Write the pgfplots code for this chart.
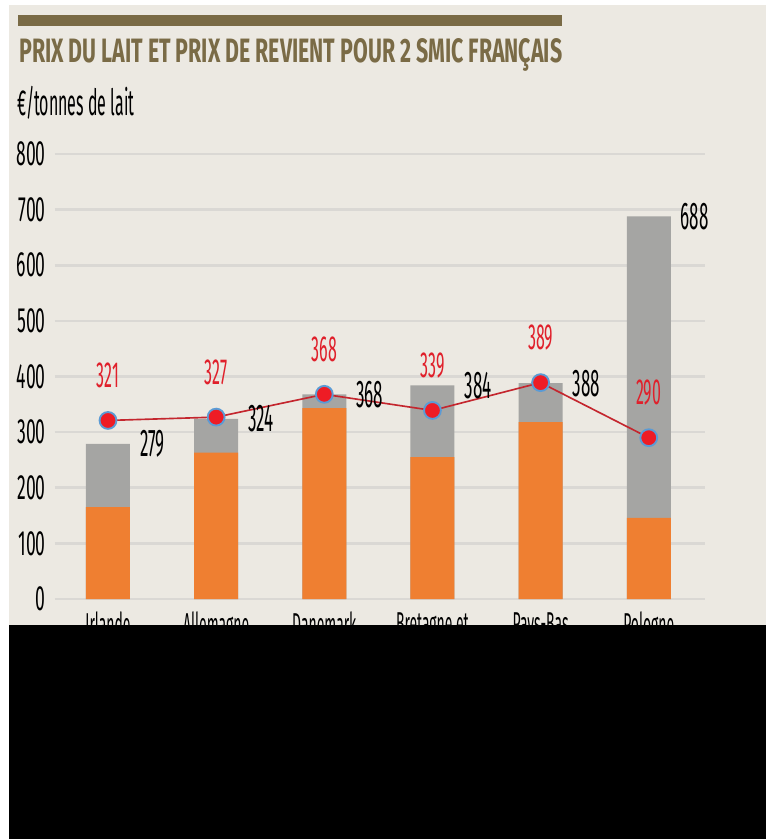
\documentclass[border=0pt]{standalone}
\usepackage{fontspec}
\usepackage{pgfplots}
\pgfplotsset{compat=1.18}
\setmainfont{Fira Sans}
\newfontfamily\cond[FakeStretch=0.5]{Fira Sans}
\newfontfamily\condn[FakeStretch=0.44]{Fira Sans}

\definecolor{bg}{HTML}{ECE9E2}
\definecolor{gridcol}{HTML}{DAD8D4}
\definecolor{orangebar}{HTML}{EF7F31}
\definecolor{graybar}{HTML}{A5A5A3}
\definecolor{titlecol}{HTML}{7A6B46}
\definecolor{labred}{HTML}{E0202B}
\definecolor{linered}{HTML}{C4262E}
\definecolor{markred}{HTML}{EE1C25}
\definecolor{markblue}{HTML}{5B9BD5}

\begin{document}
\begin{tikzpicture}
% 1 px of the reference = 0.03 cm
\useasboundingbox (0,0) rectangle (22.98,-25.17);
\fill[white] (0,0) rectangle (22.98,-25.17);
\fill[bg] (0.27,-0.15) rectangle (22.98,-18.75);
\fill[titlecol] (0.54,-0.45) rectangle (16.86,-0.78);
\node[anchor=base west, inner sep=0, text=titlecol] at (0.57,-1.86)
  {\resizebox{16.29cm}{0.72cm}{\cond\bfseries PRIX DU LAIT ET PRIX DE REVIENT POUR 2 SMIC FRANÇAIS}};
\node[anchor=base west, inner sep=0] at (0.51,-3.45)
  {\condn\fontsize{31}{31}\selectfont €/tonnes de lait};

\begin{axis}[
  at={(1.65cm,-17.97cm)}, anchor=south west,
  scale only axis, width=19.5cm, height=13.35cm,
  xmin=-0.49, xmax=5.52, ymin=0, ymax=800,
  clip=false,
  axis line style={draw=none},
  major tick length=0pt,
  ytick={0,100,...,800},
  ymajorgrids,
  grid style={gridcol, line width=2.2pt},
  xtick={0,...,5},
  xticklabels={Irlande,Allemagne,Danemark,Bretagne et,Pays-Bas,Pologne},
  /pgf/number format/assume math mode=true,
  yticklabel style={font=\cond\fontsize{30}{30}\selectfont, anchor=east, inner sep=0pt, xshift=-0.27cm},
  xticklabel style={font=\condn\fontsize{27}{27}\selectfont, anchor=north, inner sep=0pt, yshift=-0.39cm},
]

% total cost (grey) with its value beside the bar
\addplot[ybar, bar width=1.32cm, bar shift=0pt, fill=graybar, draw=none,
  nodes near coords,
  nodes near coords style={anchor=west, xshift=0.84cm, text=black,
    font=\condn\fontsize{33}{33}\selectfont}]
  coordinates {(0,279) (1,324) (2,368) (3,384) (4,388) (5,688)};

% lower part (orange)
\addplot[ybar, bar width=1.32cm, bar shift=0pt, fill=orangebar, draw=none]
  coordinates {(0,165) (1,263) (2,343) (3,255) (4,318) (5,146)};

% milk price
\addplot[linered, line width=1.4pt, mark=*, mark size=7.2pt,
  mark options={fill=markred, draw=markblue, line width=1.6pt},
  nodes near coords,
  nodes near coords style={anchor=center, yshift=1.35cm, text=labred,
    font=\condn\fontsize{31}{31}\selectfont}]
  coordinates {(0,321) (1,327) (2,368) (3,339) (4,389) (5,290)};

\end{axis}

\fill[black] (0.27,-18.75) rectangle (22.98,-25.17);
\end{tikzpicture}
\end{document}
